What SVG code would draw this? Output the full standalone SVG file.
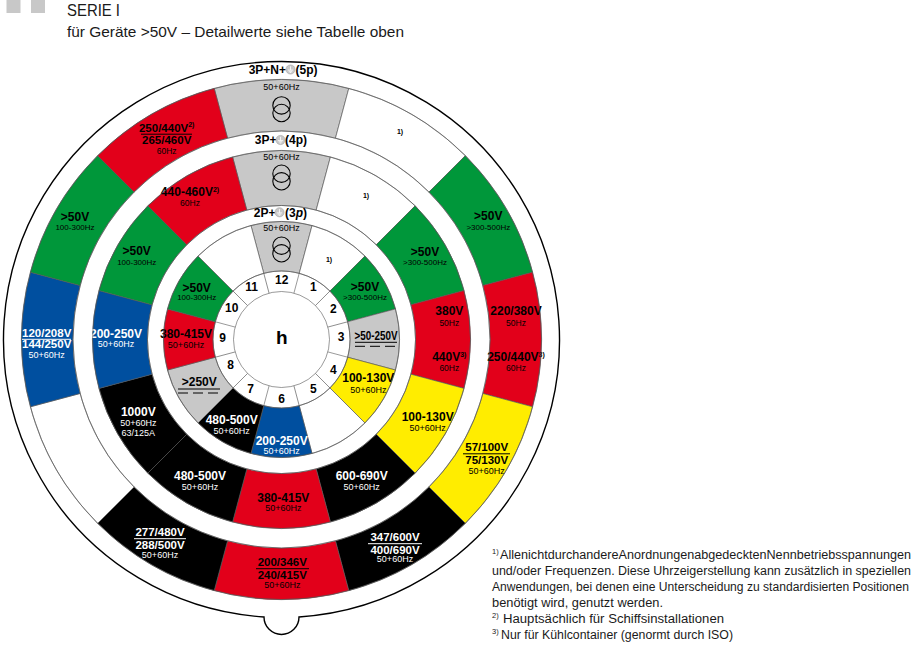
<svg xmlns="http://www.w3.org/2000/svg" width="913" height="645" viewBox="0 0 913 645">
<style>
text{font-family:"Liberation Sans",Arial,sans-serif;fill:#000}
.t{font-weight:bold;font-size:12px;text-anchor:middle}
.d{font-size:11.5px}
.s{font-size:9px;text-anchor:middle}
.f{font-size:8px;text-anchor:middle}
.hz{font-size:8.5px}
.fo{font-weight:bold;font-size:7px;text-anchor:middle}
.n{font-weight:bold;font-size:12px;text-anchor:middle}
.fn{font-size:12px;fill:#1a1a1a}
.fs{font-size:7.5px;fill:#1a1a1a}
.w{fill:#fff}
.red{fill:#e2001a}.grn{fill:#00973a}.blu{fill:#004f9f}.yel{fill:#ffed00}.gry{fill:#c8c8c8}.blk{fill:#000}.wh{fill:#fff}
.rl{fill:none;stroke:#555;stroke-width:0.6}
.ul{stroke:#000;stroke-width:1}
.ulw{stroke:#fff;stroke-width:1}
.dash{stroke:#000;stroke-width:1;stroke-dasharray:10 5}
</style>
<defs>
<path id="s1" stroke="#555" stroke-width="0.6" d="M250.96,225.52 A118,118 0 0 1 312.04,225.52 L299.23,273.33 A68.5,68.5 0 0 0 263.77,273.33 Z"/>
<path id="s2" stroke="#555" stroke-width="0.6" d="M232.58,156.94 A189,189 0 0 1 330.42,156.94 L316.18,210.07 A134,134 0 0 0 246.82,210.07 Z"/>
<path id="s3" stroke="#555" stroke-width="0.6" d="M214.21,88.36 A260,260 0 0 1 348.79,88.36 L335.46,138.11 A208.5,208.5 0 0 0 227.54,138.11 Z"/>
<line id="nl" x1="293.92" y1="293.14" x2="299.23" y2="273.33" stroke="#555" stroke-width="0.6"/>
<g id="tr" fill="none" stroke="#000" stroke-width="1.1"><circle cx="0" cy="-3.8" r="8.7"/><circle cx="0" cy="3.8" r="8.7"/></g>
<g id="gnd"><circle r="4.6" fill="#c8c8c8" stroke="#9a9a9a" stroke-width="0.5"/><path d="M0,-3.2V0.6M-2.6,0.6H2.6M-1.7,1.8H1.7M-0.8,3H0.8" stroke="#fff" stroke-width="0.8" fill="none"/></g>
</defs>
<rect width="913" height="645" fill="#fff"/>

<g id="header">
<rect x="6.5" y="0" width="14" height="13" fill="#c8c8c8"/>
<rect x="31" y="0" width="14" height="13" fill="#c8c8c8"/>
<text x="67" y="16" font-size="17" textLength="53" lengthAdjust="spacingAndGlyphs" style="fill:#1a1a1a">SERIE I</text>
<text x="67" y="37" font-size="14.5" textLength="337" lengthAdjust="spacingAndGlyphs" style="fill:#1a1a1a">für Geräte &gt;50V – Detailwerte siehe Tabelle oben</text>
</g>

<g id="outline">
<path d="M264,616.95 A278,278 0 1 1 299,616.95 A17.5,17.5 0 0 1 264,616.95 Z" fill="#fff" stroke="#000" stroke-width="1.4"/>
</g>

<!-- Ring 3 (5p) -->
<g id="r3-h12"><use href="#s3" class="gry"/><text class="s" x="281.5" y="89.5">50+60Hz</text><use href="#tr" x="281.5" y="109.2"/></g>
<g id="r3-h1"><use href="#s3" class="wh" transform="rotate(30 281.5 339.5)"/><text class="fo" x="400" y="134">1)</text></g>
<g id="r3-h2"><use href="#s3" class="grn" transform="rotate(60 281.5 339.5)"/><text class="t" x="488.3" y="220.3">&gt;50V</text><text class="f" x="488.3" y="229.7">&gt;300-500Hz</text></g>
<g id="r3-h3"><use href="#s3" class="red" transform="rotate(90 281.5 339.5)"/><text class="t" x="516" y="315">220/380V</text><text class="f hz" x="516" y="325.5">50Hz</text><text class="t" x="516" y="361">250/440V<tspan style="font-size:7px" dy="-4.5">3)</tspan></text><text class="f hz" x="516" y="371.2">60Hz</text></g>
<g id="r3-h4"><use href="#s3" class="yel" transform="rotate(120 281.5 339.5)"/><text class="t d" x="486.7" y="451">57/100V</text><line class="ul" x1="463" y1="453.8" x2="510" y2="453.8"/><text class="t d" x="486.7" y="464.3">75/130V</text><text class="s" x="486.7" y="473.7">50+60Hz</text></g>
<g id="r3-h5"><use href="#s3" class="blk" transform="rotate(150 281.5 339.5)"/><text class="t d w" x="395" y="541">347/600V</text><line class="ulw" x1="368" y1="543.7" x2="422" y2="543.7"/><text class="t d w" x="395" y="553.6">400/690V</text><text class="s w" x="395" y="562.3">50+60Hz</text></g>
<g id="r3-h6"><use href="#s3" class="red" transform="rotate(180 281.5 339.5)"/><text class="t d" x="282.3" y="566">200/346V</text><line class="ul" x1="256" y1="568.7" x2="309" y2="568.7"/><text class="t d" x="282.3" y="579.3">240/415V</text><text class="s" x="282.3" y="588">50+60Hz</text></g>
<g id="r3-h7"><use href="#s3" class="blk" transform="rotate(210 281.5 339.5)"/><text class="t d w" x="160" y="536">277/480V</text><line class="ulw" x1="134" y1="538.7" x2="186" y2="538.7"/><text class="t d w" x="160" y="549.3">288/500V</text><text class="s w" x="160" y="558">50+60Hz</text></g>
<g id="r3-h8"><use href="#s3" class="wh" transform="rotate(240 281.5 339.5)"/></g>
<g id="r3-h9"><use href="#s3" class="blu" transform="rotate(270 281.5 339.5)"/><text class="t d w" x="46.7" y="336.6">120/208V</text><line class="ulw" x1="22" y1="339.3" x2="71" y2="339.3"/><text class="t d w" x="46.7" y="348.3">144/250V</text><text class="s w" x="46.7" y="358">50+60Hz</text></g>
<g id="r3-h10"><use href="#s3" class="grn" transform="rotate(300 281.5 339.5)"/><text class="t" x="75" y="221">&gt;50V</text><text class="f" x="75" y="230.3">100-300Hz</text></g>
<g id="r3-h11"><use href="#s3" class="red" transform="rotate(330 281.5 339.5)"/><text class="t d" x="166.7" y="131.6">250/440V<tspan style="font-size:7px" dy="-4.5">2)</tspan></text><line class="ul" x1="141" y1="134.2" x2="192" y2="134.2"/><text class="t d" x="166.7" y="144.3">265/460V</text><text class="f hz" x="166.7" y="153.5">60Hz</text></g>

<!-- Ring 2 (4p) -->
<g id="r2-h12"><use href="#s2" class="gry"/><text class="s" x="281.5" y="159.7">50+60Hz</text><use href="#tr" x="281.5" y="177.5"/></g>
<g id="r2-h1"><use href="#s2" class="wh" transform="rotate(30 281.5 339.5)"/><text class="fo" x="366" y="197.5">1)</text></g>
<g id="r2-h2"><use href="#s2" class="grn" transform="rotate(60 281.5 339.5)"/><text class="t" x="425" y="256">&gt;50V</text><text class="f" x="425" y="264.7">&gt;300-500Hz</text></g>
<g id="r2-h3"><use href="#s2" class="red" transform="rotate(90 281.5 339.5)"/><text class="t" x="449.3" y="315">380V</text><text class="f hz" x="449.3" y="325.5">50Hz</text><text class="t" x="449.3" y="361">440V<tspan style="font-size:7px" dy="-4.5">3)</tspan></text><text class="f hz" x="449.3" y="371.2">60Hz</text></g>
<g id="r2-h4"><use href="#s2" class="yel" transform="rotate(120 281.5 339.5)"/><text class="t" x="427.7" y="421">100-130V</text><text class="s" x="427.7" y="431.3">50+60Hz</text></g>
<g id="r2-h5"><use href="#s2" class="blk" transform="rotate(150 281.5 339.5)"/><text class="t w" x="361.7" y="480.3">600-690V</text><text class="s w" x="361.7" y="489.5">50+60Hz</text></g>
<g id="r2-h6"><use href="#s2" class="red" transform="rotate(180 281.5 339.5)"/><text class="t" x="283.3" y="501.6">380-415V</text><text class="s" x="283.3" y="511">50+60Hz</text></g>
<g id="r2-h7"><use href="#s2" class="blk" transform="rotate(210 281.5 339.5)"/><text class="t w" x="200" y="480.3">480-500V</text><text class="s w" x="200" y="489.5">50+60Hz</text></g>
<g id="r2-h8"><use href="#s2" class="blk" transform="rotate(240 281.5 339.5)"/><text class="t w" x="138.3" y="416">1000V</text><text class="s w" x="138.3" y="425.7">50+60Hz</text><text class="s w" x="138.3" y="435.7">63/125A</text></g>
<g id="r2-h9"><use href="#s2" class="blu" transform="rotate(270 281.5 339.5)"/><text class="t w" x="116" y="337.6">200-250V</text><text class="s w" x="116" y="346.8">50+60Hz</text></g>
<g id="r2-h10"><use href="#s2" class="grn" transform="rotate(300 281.5 339.5)"/><text class="t" x="136.7" y="255">&gt;50V</text><text class="f" x="136.7" y="264.7">100-300Hz</text></g>
<g id="r2-h11"><use href="#s2" class="red" transform="rotate(330 281.5 339.5)"/><text class="t" x="190" y="196">440-460V<tspan style="font-size:7px" dy="-4.5">2)</tspan></text><text class="f hz" x="190" y="206">60Hz</text></g>

<!-- Ring 1 (3p) -->
<g id="r1-h12"><use href="#s1" class="gry"/><text class="s" x="281.5" y="231">50+60Hz</text><use href="#tr" x="281.5" y="249.5"/></g>
<g id="r1-h1"><use href="#s1" class="wh" transform="rotate(30 281.5 339.5)"/><text class="fo" x="329" y="261.5">1)</text></g>
<g id="r1-h2"><use href="#s1" class="grn" transform="rotate(60 281.5 339.5)"/><text class="t" x="365" y="291">&gt;50V</text><text class="f" x="365" y="300.3">&gt;300-500Hz</text></g>
<g id="r1-h3"><use href="#s1" class="gry" transform="rotate(90 281.5 339.5)"/><text class="t" x="376" y="340" textLength="43" lengthAdjust="spacingAndGlyphs">&gt;50-250V</text><line class="ul" x1="355" y1="342.3" x2="397" y2="342.3"/><line class="dash" x1="355" y1="346.3" x2="397" y2="346.3"/></g>
<g id="r1-h4"><use href="#s1" class="yel" transform="rotate(120 281.5 339.5)"/><text class="t" x="368.3" y="382">100-130V</text><text class="s" x="368.3" y="392.5">50+60Hz</text></g>
<g id="r1-h5"><use href="#s1" class="wh" transform="rotate(150 281.5 339.5)"/></g>
<g id="r1-h6"><use href="#s1" class="blu" transform="rotate(180 281.5 339.5)"/><text class="t w" x="281.7" y="445">200-250V</text><text class="s w" x="281.7" y="454.3">50+60Hz</text></g>
<g id="r1-h7"><use href="#s1" class="blk" transform="rotate(210 281.5 339.5)"/><text class="t w" x="231.7" y="424.3">480-500V</text><text class="s w" x="231.7" y="433.6">50+60Hz</text></g>
<g id="r1-h8"><use href="#s1" class="gry" transform="rotate(240 281.5 339.5)"/><text class="t" x="199.3" y="386">&gt;250V</text><line class="ul" x1="178" y1="389" x2="220" y2="389"/><line class="dash" x1="178" y1="393" x2="220" y2="393"/></g>
<g id="r1-h9"><use href="#s1" class="red" transform="rotate(270 281.5 339.5)"/><text class="t" x="186" y="338.3">380-415V</text><text class="s" x="186" y="347.5">50+60Hz</text></g>
<g id="r1-h10"><use href="#s1" class="grn" transform="rotate(300 281.5 339.5)"/><text class="t" x="196.7" y="291.6">&gt;50V</text><text class="f" x="196.7" y="300.3">100-300Hz</text></g>
<g id="r1-h11"><use href="#s1" class="wh" transform="rotate(330 281.5 339.5)"/></g>

<g id="ring-lines">
<circle class="rl" cx="281.5" cy="339.5" r="48"/>
<circle class="rl" cx="281.5" cy="339.5" r="68.5"/>
<circle class="rl" cx="281.5" cy="339.5" r="118"/>
<circle class="rl" cx="281.5" cy="339.5" r="134"/>
<circle class="rl" cx="281.5" cy="339.5" r="189"/>
<circle class="rl" cx="281.5" cy="339.5" r="208.5"/>
<circle class="rl" cx="281.5" cy="339.5" r="260"/>
</g>

<g id="ring-titles">
<text class="t" x="286" y="73.5" style="text-anchor:end">3P+N+</text><use href="#gnd" x="290.5" y="69.5"/><text class="t" x="295.5" y="73.5" style="text-anchor:start">(5p)</text>
<text class="t" x="276.5" y="144" style="text-anchor:end">3P+</text><use href="#gnd" x="280.5" y="140"/><text class="t" x="285" y="144" style="text-anchor:start">(4p)</text>
<text class="t" x="275.5" y="216.5" style="text-anchor:end">2P+</text><use href="#gnd" x="279.5" y="212.3"/><text class="t" x="285" y="216.5" style="text-anchor:start">(3<tspan font-style="italic">p</tspan>)</text>
</g>

<g id="hours">
<use href="#nl"/><use href="#nl" transform="rotate(30 281.5 339.5)"/><use href="#nl" transform="rotate(60 281.5 339.5)"/><use href="#nl" transform="rotate(90 281.5 339.5)"/><use href="#nl" transform="rotate(120 281.5 339.5)"/><use href="#nl" transform="rotate(150 281.5 339.5)"/><use href="#nl" transform="rotate(180 281.5 339.5)"/><use href="#nl" transform="rotate(210 281.5 339.5)"/><use href="#nl" transform="rotate(240 281.5 339.5)"/><use href="#nl" transform="rotate(270 281.5 339.5)"/><use href="#nl" transform="rotate(300 281.5 339.5)"/><use href="#nl" transform="rotate(330 281.5 339.5)"/>
<text class="n" x="281.7" y="284.3">12</text>
<text class="n" x="313.3" y="291">1</text>
<text class="n" x="333.3" y="313.3">2</text>
<text class="n" x="341" y="341">3</text>
<text class="n" x="333.3" y="373.6">4</text>
<text class="n" x="313.3" y="393.3">5</text>
<text class="n" x="281.7" y="403.3">6</text>
<text class="n" x="250.7" y="393.3">7</text>
<text class="n" x="230.7" y="369.3">8</text>
<text class="n" x="222.7" y="341.6">9</text>
<text class="n" x="231.7" y="312">10</text>
<text class="n" x="251.7" y="291">11</text>
</g>
<g id="hub"><text x="281.7" y="343.5" font-size="19" font-weight="bold" text-anchor="middle">h</text></g>

<g id="footnotes">
<text class="fs" x="492" y="554">1)</text>
<text class="fn" x="500" y="559" textLength="411" lengthAdjust="spacingAndGlyphs">AllenichtdurchandereAnordnungenabgedecktenNennbetriebsspannungen</text>
<text class="fn" x="492" y="575" textLength="419" lengthAdjust="spacingAndGlyphs">und/oder Frequenzen. Diese Uhrzeigerstellung kann zusätzlich in speziellen</text>
<text class="fn" x="492" y="591" textLength="417" lengthAdjust="spacingAndGlyphs">Anwendungen, bei denen eine Unterscheidung zu standardisierten Positionen</text>
<text class="fn" x="492" y="607" textLength="171" lengthAdjust="spacingAndGlyphs">benötigt wird, genutzt werden.</text>
<text class="fs" x="492" y="618">2)</text>
<text class="fn" x="503" y="623" textLength="221" lengthAdjust="spacingAndGlyphs">Hauptsächlich für Schiffsinstallationen</text>
<text class="fs" x="492" y="634">3)</text>
<text class="fn" x="501" y="639" textLength="232" lengthAdjust="spacingAndGlyphs">Nur für Kühlcontainer (genormt durch ISO)</text>
</g>
</svg>
